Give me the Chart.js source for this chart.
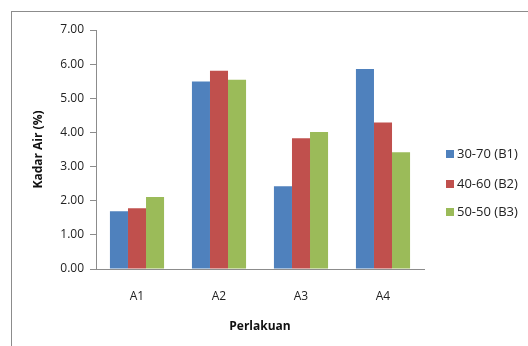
<!DOCTYPE html>
<html>
<head>
<meta charset="utf-8">
<script src="https://cdn.jsdelivr.net/npm/chart.js@4/dist/chart.umd.min.js"></script>
<style>
  html, body { margin: 0; padding: 0; background: #fff; overflow: hidden; }
  #wrap { position: relative; width: 528px; height: 346px; }
  #frame { position: absolute; left: 11px; top: 11px; width: 700px; height: 500px; border: 1px solid #8c8c8c; box-sizing: border-box; }
  canvas { position: absolute; left: 0; top: 0; }
</style>
</head>
<body>
<div id="wrap">
  <div id="frame"></div>
  <canvas id="c" width="528" height="346"></canvas>
</div>
<script>
// Treatment groups on the x axis
const categories = ['A1', 'A2', 'A3', 'A4'];
// Moisture content (%) for each mixing ratio
const seriesB1 = [1.69, 5.49, 2.42, 5.86];
const seriesB2 = [1.78, 5.81, 3.83, 4.29];
const seriesB3 = [2.11, 5.54, 4.01, 3.42];
const seriesNames = ['30-70 (B1)', '40-60 (B2)', '50-50 (B3)'];
const yTicks = [0, 1, 2, 3, 4, 5, 6, 7];

const colors = ['#4F81BD', '#C0504D', '#9BBB59'];
const FONT = "'Open Sans', 'Liberation Sans', sans-serif";

// Legend drawn beside the plot, one row per series
const sideLegend = {
  id: 'sideLegend',
  afterDraw(chart) {
    const ctx = chart.ctx;
    const x = chart.chartArea.right + 22;
    const rows = [154, 184, 212];
    ctx.save();
    ctx.font = '13px ' + FONT;
    ctx.textBaseline = 'middle';
    chart.data.datasets.forEach((ds, i) => {
      ctx.fillStyle = ds.backgroundColor;
      ctx.fillRect(x, rows[i] - 4, 8, 8);
      ctx.fillStyle = '#222';
      ctx.fillText(ds.label, x + 11, rows[i]);
    });
    ctx.restore();
  }
};

new Chart(document.getElementById('c'), {
  type: 'bar',
  data: {
    labels: categories,
    datasets: [seriesB1, seriesB2, seriesB3].map((d, i) => ({
      label: seriesNames[i],
      data: d,
      backgroundColor: colors[i],
      borderWidth: 0,
      barPercentage: 1.0,
      categoryPercentage: 0.66
    }))
  },
  options: {
    responsive: false,
    animation: false,
    layout: { padding: { left: 0, right: 104, top: 30, bottom: 0 } },
    plugins: {
      legend: { display: false },
      tooltip: { enabled: false }
    },
    scales: {
      x: {
        grid: { display: false, drawTicks: false },
        border: { display: true, color: '#8c8c8c' },
        ticks: { color: '#222', font: { family: FONT, size: 12 }, padding: 20 },
        title: {
          display: true, text: 'Perlakuan', color: '#111',
          font: { family: FONT, size: 12, weight: 'bold' },
          padding: { top: 0, bottom: 12 }
        },
        afterFit(scale) { scale.height = 77; }
      },
      y: {
        min: 0, max: 7,
        afterBuildTicks(scale) { scale.ticks = yTicks.map(v => ({ value: v })); },
        grid: { drawOnChartArea: false, drawTicks: true, tickLength: 6, color: '#8c8c8c' },
        border: { display: true, color: '#8c8c8c' },
        ticks: {
          color: '#222', font: { family: FONT, size: 12 }, padding: 6,
          callback: v => Number(v).toFixed(2)
        },
        title: {
          display: true, text: 'Kadar Air (%)', color: '#111',
          font: { family: FONT, size: 12, weight: 'bold' },
          padding: { top: 31, bottom: 0 }
        },
        afterFit(scale) { scale.width = 96; }
      }
    }
  },
  plugins: [sideLegend]
});
</script>
</body>
</html>
